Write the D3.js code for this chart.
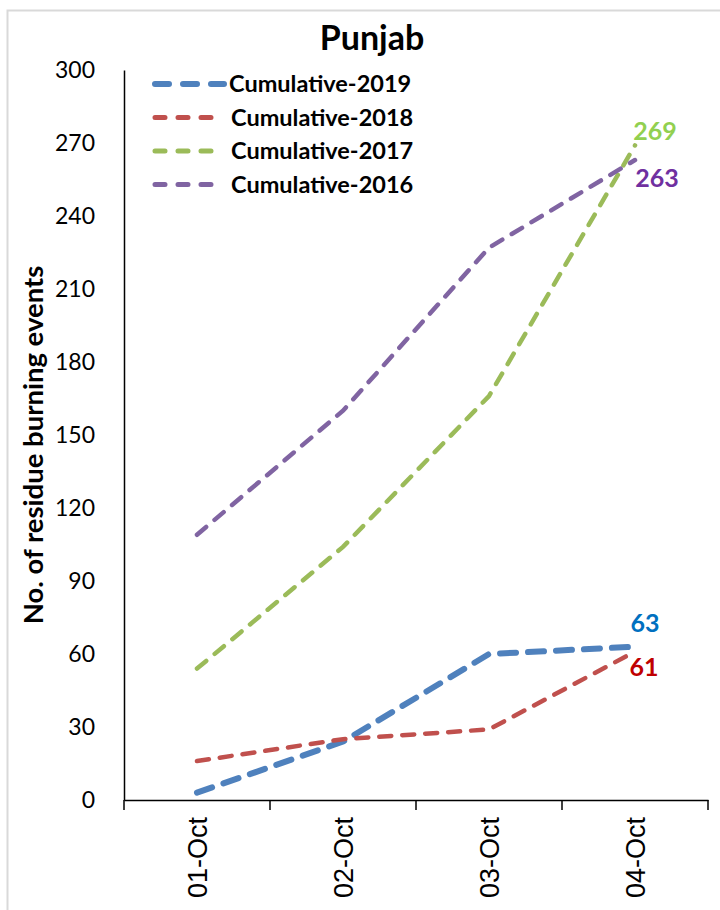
<!DOCTYPE html>
<html>
<head>
<meta charset="utf-8">
<script src="https://cdn.jsdelivr.net/npm/d3@7"></script>
<style>
  body { margin: 0; background: #fff; }
</style>
</head>
<body>
<script>
const days = ["01-Oct", "02-Oct", "03-Oct", "04-Oct"];
const yTicks = [0, 30, 60, 90, 120, 150, 180, 210, 240, 270, 300];

const cum2019 = [3, 24, 60, 63];
const cum2018 = [16, 25, 29, 61];
const cum2017 = [54, 104, 166, 269];
const cum2016 = [109, 160, 227, 263];

const seriesNames = ["Cumulative-2019", "Cumulative-2018", "Cumulative-2017", "Cumulative-2016"];
const seriesValues = [cum2019, cum2018, cum2017, cum2016];
const lineColors = ["#4F81BD", "#C0504D", "#9BBB59", "#8064A2"];
const labelColors = ["#0070C0", "#C00000", "#92D050", "#7030A0"];

const W = 720, H = 910;
const svg = d3.select("body").append("svg").attr("width", W).attr("height", H);

// chart border
svg.append("rect").attr("x", 7.5).attr("y", 10.5).attr("width", 740).attr("height", 920)
    .attr("fill", "none").attr("stroke", "#D9D9D9").attr("stroke-width", 2);

const plotLeft = 124, plotRight = 708, plotTop = 70, plotBottom = 800;

const x = d3.scaleBand().domain(days).range([plotLeft, plotRight]);
const y = d3.scaleLinear().domain([0, 300]).range([plotBottom, plotTop]);

// title
svg.append("text").attr("x", 372).attr("y", 50).attr("text-anchor", "middle")
    .style("font-family", "Lato, 'Open Sans', sans-serif").style("font-weight", "bold")
    .style("font-size", "34px").text("Punjab");

// y axis
const yAxis = svg.append("g").attr("transform", `translate(${plotLeft},0)`)
    .call(d3.axisLeft(y).tickValues(yTicks).tickSize(0).tickPadding(29));
yAxis.select(".domain").attr("stroke", "#000").attr("stroke-width", 1.5);
yAxis.selectAll("text").style("font-family", "Lato, 'Open Sans', sans-serif")
    .style("font-size", "23px").attr("fill", "#000");

// x axis
const xAxis = svg.append("g").attr("transform", `translate(0,${plotBottom})`)
    .call(d3.axisBottom(x).tickSize(0).tickSizeOuter(0));
xAxis.select(".domain").attr("stroke", "#000").attr("stroke-width", 1.5);
xAxis.selectAll(".tick text")
    .attr("transform", "rotate(-90)")
    .attr("text-anchor", "end")
    .attr("x", -17).attr("y", 0).attr("dy", "0.36em")
    .style("font-family", "'Liberation Sans', Arial, sans-serif")
    .style("font-size", "27px").attr("fill", "#000");

// category boundary ticks
const bounds = days.map(d => x(d)).concat([x(days[days.length - 1]) + x.bandwidth()]);
svg.append("g").selectAll("line").data(bounds).enter().append("line")
    .attr("x1", d => d).attr("x2", d => d)
    .attr("y1", plotBottom).attr("y2", plotBottom + 10)
    .attr("stroke", "#000").attr("stroke-width", 1.5);

// lines
const line = d3.line()
    .x((d, i) => x(days[i]) + x.bandwidth() / 2)
    .y(d => y(d));

const widths = [6, 4.5, 4.5, 4.5];
const dashes = ["16,12", "12,11", "12,11", "12,11"];

seriesValues.forEach((vals, k) => {
    svg.append("path").datum(vals)
        .attr("d", line)
        .attr("fill", "none")
        .attr("stroke", lineColors[k])
        .attr("stroke-width", widths[k])
        .attr("stroke-dasharray", dashes[k])
        .attr("stroke-linecap", "round");
});

// end labels
const labelOffsets = [[10, -23], [9, 16], [20, -14], [22, 18]];
seriesValues.forEach((vals, k) => {
    const last = vals.length - 1;
    svg.append("text")
        .attr("x", x(days[last]) + x.bandwidth() / 2 + labelOffsets[k][0])
        .attr("y", y(vals[last]) + labelOffsets[k][1])
        .attr("dy", "0.35em")
        .attr("text-anchor", "middle")
        .style("font-family", "Lato, 'Open Sans', sans-serif")
        .style("font-weight", "bold").style("font-size", "25px")
        .attr("fill", labelColors[k])
        .text(vals[last]);
});

// legend
const legend = svg.append("g");
seriesNames.forEach((name, k) => {
    const ly = 84 + k * 33.5;
    legend.append("line")
        .attr("x1", 155).attr("x2", 224).attr("y1", ly).attr("y2", ly)
        .attr("stroke", lineColors[k])
        .attr("stroke-width", k === 0 ? 6 : 5)
        .attr("stroke-dasharray", k === 0 ? "14,14" : "10,13")
        .attr("stroke-linecap", "round");
    legend.append("text")
        .attr("x", k === 0 ? 229 : 231).attr("y", ly).attr("dy", "0.35em")
        .style("font-family", "Lato, 'Open Sans', sans-serif")
        .style("font-weight", "bold").style("font-size", "23.5px")
        .text(name);
});

// y axis title
svg.append("text")
    .attr("transform", "translate(43,445) rotate(-90)")
    .attr("text-anchor", "middle")
    .style("font-family", "Lato, 'Open Sans', sans-serif")
    .style("font-weight", "bold").style("font-size", "27.5px")
    .text("No. of residue burning events");
</script>
</body>
</html>
